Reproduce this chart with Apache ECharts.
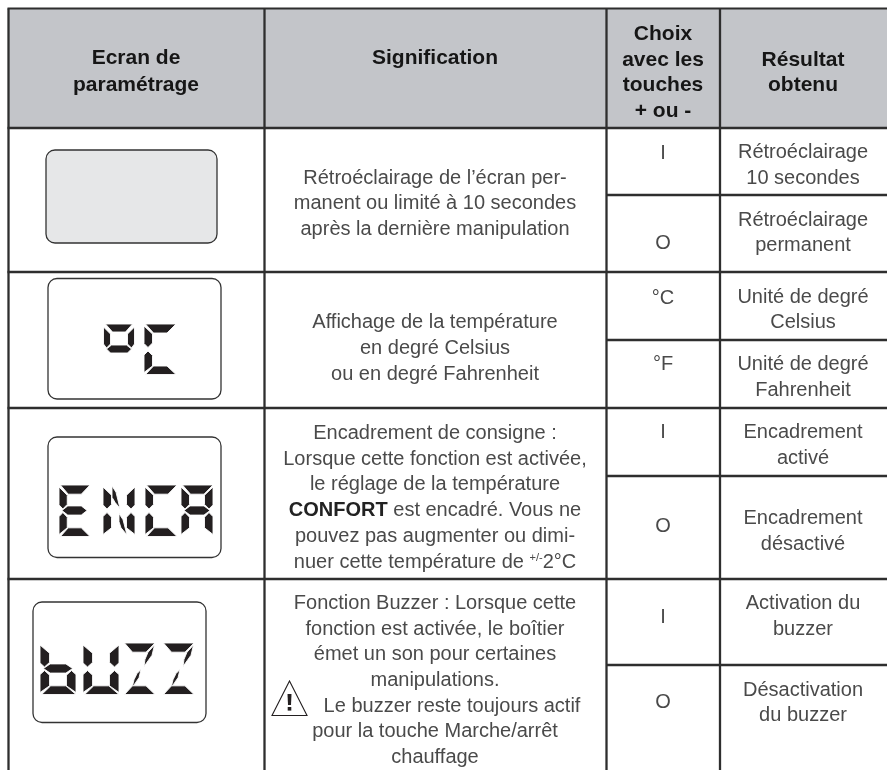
<!DOCTYPE html>
<html><head><meta charset="utf-8">
<style>html,body{margin:0;padding:0;background:#fff}#c{width:887px;height:770px}</style>
<script src="https://cdn.jsdelivr.net/npm/echarts@6/dist/echarts.min.js"></script>
</head><body><div id="c"></div>
<script>
// ---- content ----
const headers = [
  ['Ecran de', 'paramétrage'],
  ['Signification'],
  ['Choix', 'avec les', 'touches', '+ ou -'],
  ['Résultat', 'obtenu']
];
const meanings = [
  ['Rétroéclairage de l’écran per-', 'manent ou limité à 10 secondes', 'après la dernière manipulation'],
  ['Affichage de la température', 'en degré Celsius', 'ou en degré Fahrenheit'],
  ['Encadrement de consigne :', 'Lorsque cette fonction est activée,', 'le réglage de la température', '{b|CONFORT} est encadré. Vous ne', 'pouvez pas augmenter ou dimi-', 'nuer cette température de {s|+/-}2°C'],
  ['Fonction Buzzer : Lorsque cette', 'fonction est activée, le boîtier', 'émet un son pour certaines', 'manipulations.', 'Le buzzer reste toujours actif', 'pour la touche Marche/arrêt', 'chauffage']
];
const choices = ['I', 'O', '°C', '°F', 'I', 'O', 'I', 'O'];
const results = [
  ['Rétroéclairage', '10 secondes'], ['Rétroéclairage', 'permanent'],
  ['Unité de degré', 'Celsius'], ['Unité de degré', 'Fahrenheit'],
  ['Encadrement', 'activé'], ['Encadrement', 'désactivé'],
  ['Activation du', 'buzzer'], ['Désactivation', 'du buzzer']
];
const lcdWords = [[], ['°', 'C'], ['E', 'N', 'C', 'A'], ['b', 'U', 'Z', 'Z']];

// ---- layout (reference pixels, fed through the hidden axes) ----
const colX = [8.5, 264.5, 606.5, 720, 887];
const rowY = [8.5, 128, 272, 408, 579, 770];
const subY = [195, 340, 476, 665];
const headerCY = [[58, 85], [58], [34, 60, 85, 111], [60, 85]];
const colCX = [136, 435, 663, 803];
const meaningY = [[178, 203.5, 229], [322, 348, 374], [433, 459, 484.5, 510, 536, 562], [603, 629, 654.5, 680, 706, 731.5, 757]];
const choiceY = [153, 243, 298, 364, 432, 526, 617, 702];
const resultY = [[152, 178], [220, 245.5], [297, 322.5], [364, 390], [432, 458], [518, 544], [603, 629], [690, 715.5]];
const lcdBox = [[46, 150, 171, 93], [48, 278.5, 173, 120.5], [48, 437, 173, 120.5], [33, 602, 173, 120.5]];
const lcdGlyphPos = [[], [[103.5, 324, 31, 29], [144, 324, 32, 50]],
  [[59, 485, 31, 51], [103, 485, 32, 51], [145, 485, 32, 51], [181, 485, 32, 51]],
  [[40, 643, 36, 51], [83, 643, 36, 51], [123, 643, 32, 51], [162, 643, 32, 51]]];

// seven-segment shapes on a 32x50 cell
const seg = {
  a: [[1.5, 0], [32, 0], [23, 9], [9.5, 9]],
  f: [[0, 2], [8.5, 10], [8.5, 19], [4, 23.5], [0, 19.5]],
  b: [[32, 2], [23.5, 10], [23.5, 19], [28, 23.5], [32, 19.5]],
  g: [[3, 25], [9, 20.5], [23, 20.5], [29, 25], [23, 29.5], [9, 29.5]],
  e: [[0, 31], [4, 27], [8.5, 31.5], [8.5, 42], [0, 48.5]],
  c: [[32, 31], [28, 27], [23.5, 31.5], [23.5, 42], [32, 48.5]],
  d: [[1.5, 50.5], [9.5, 42], [23, 42], [32, 50.5]],
  n1: [[9, 1], [13, 7], [17, 23], [12, 17], [9, 12]],
  n2: [[16, 28], [20, 34], [24, 49], [18, 42], [16, 36]],
  z1: [[31.5, 2], [29, 12], [21, 23], [22, 16], [25, 9]],
  z2: [[18, 26], [16, 34], [9, 44], [11, 36], [14, 30]],
  ringA: [[2, 0], [29, 0], [22, 8], [9, 8]],
  ringF: [[0, 3], [7, 10], [7, 20], [3, 24], [0, 20]],
  ringB: [[31, 3], [24, 10], [24, 20], [28, 24], [31, 20]],
  ringD: [[3, 25], [8, 21], [23, 21], [28, 25], [24, 29], [7, 29]]
};
const glyphSegs = {
  '°': ['ringA', 'ringF', 'ringB', 'ringD'], C: ['a', 'f', 'e', 'd'], E: ['a', 'f', 'g', 'e', 'd'],
  N: ['f', 'e', 'b', 'c', 'n1', 'n2'], A: ['a', 'f', 'b', 'g', 'e', 'c'],
  b: ['f', 'g', 'e', 'c', 'd'], U: ['f', 'e', 'b', 'c', 'd'], Z: ['a', 'z1', 'z2', 'd']
};

const FONT = '"Liberation Sans", Arial, sans-serif';
const BODY = 20, HEAD = 21, INK = '#4a4a4a', HEADINK = '#161616', LINE = '#2e2e2e';

// ---- primitives ----
const rects = [], lines = [], polys = [], texts = [];
rects.push({x: colX[0], y: rowY[0], w: 887 - colX[0], h: rowY[1] - rowY[0], fill: '#c3c5c9'});
lcdBox.forEach((b, i) => rects.push({x: b[0], y: b[1], w: b[2], h: b[3], r: 9, fill: i === 0 ? '#e6e7e8' : '#fff', stroke: '#333', sw: 1.3}));
rowY.slice(0, 5).forEach((y, i) => lines.push([colX[0] - 1, y, 887, y, i === 0 ? 1.8 : 2.3]));
subY.forEach(y => lines.push([colX[2], y, 887, y, 2.3]));
colX.slice(0, 4).forEach(x => lines.push([x, rowY[0], x, 770, 2.3]));

lcdWords.forEach((word, wi) => word.forEach((ch, gi) => {
  const [gx, gy, gw, gh] = lcdGlyphPos[wi][gi];
  const ring = ch === '°';
  glyphSegs[ch].forEach(s => polys.push({
    pts: seg[s].map(p => ring ? [gx + p[0], gy + p[1]] : [gx + p[0] * gw / 32, gy + p[1] * gh / 50]),
    fill: '#231f20', stroke: '#fff', sw: 0.9
  }));
}));
// warning triangle
polys.push({pts: [[289.5, 681], [307, 715.5], [272, 715.5]], stroke: '#231f20', sw: 1.1, fill: 'none'});
polys.push({pts: [[287.5, 694], [291.5, 694], [291, 705], [288, 705]], fill: '#231f20'});
rects.push({x: 287.7, y: 707, w: 3.6, h: 3.6, fill: '#231f20'});

headers.forEach((h, c) => h.forEach((t, i) => texts.push({t, x: colCX[c], y: headerCY[c][i], bold: true})));
meanings.forEach((m, r) => m.forEach((t, i) => texts.push({t, x: (r === 3 && i === 4) ? 452 : colCX[1], y: meaningY[r][i]})));
choices.forEach((t, i) => texts.push({t, x: colCX[2], y: choiceY[i]}));
results.forEach((m, r) => m.forEach((t, i) => texts.push({t, x: colCX[3], y: resultY[r][i]})));

function renderRect(p, api) {
  const d = rects[p.dataIndex], a = api.coord([d.x, d.y]), b = api.coord([d.x + d.w, d.y + d.h]);
  return {type: 'rect', shape: {x: a[0], y: a[1], width: b[0] - a[0], height: b[1] - a[1], r: d.r || 0},
    style: {fill: d.fill, stroke: d.stroke || null, lineWidth: d.sw || 0}};
}
function renderLine(p, api) {
  const d = lines[p.dataIndex], a = api.coord([d[0], d[1]]), b = api.coord([d[2], d[3]]);
  return {type: 'line', shape: {x1: a[0], y1: a[1], x2: b[0], y2: b[1]}, style: {stroke: LINE, lineWidth: d[4]}};
}
function renderPoly(p, api) {
  const d = polys[p.dataIndex];
  return {type: 'polygon', shape: {points: d.pts.map(q => api.coord(q))},
    style: {fill: d.fill, stroke: d.stroke || null, lineWidth: d.sw || 0}};
}
function renderText(p, api) {
  const d = texts[p.dataIndex], a = api.coord([d.x, d.y]);
  return {type: 'text', x: a[0], y: a[1], style: {
    text: d.t, align: 'center', verticalAlign: 'middle', fill: d.bold ? HEADINK : INK,
    fontFamily: FONT, fontSize: d.bold ? HEAD : BODY, fontWeight: d.bold ? 'bold' : 'normal',
    rich: {
      b: {fontFamily: FONT, fontSize: BODY, fontWeight: 'bold', fill: '#222'},
      s: {fontFamily: FONT, fontSize: 11, fill: INK, verticalAlign: 'top'}
    }
  }};
}
const ser = (arr, fn, z) => ({type: 'custom', coordinateSystem: 'cartesian2d', clip: false, silent: true, z,
  animation: false, renderItem: fn, data: arr.map((_, i) => [i, i]), encode: {x: 0, y: 1}});

const chart = echarts.init(document.getElementById('c'), null, {renderer: 'canvas', width: 887, height: 770});
chart.setOption({
  animation: false,
  backgroundColor: '#fff',
  grid: {left: 0, right: 0, top: 0, bottom: 0},
  xAxis: {type: 'value', min: 0, max: 887, show: false},
  yAxis: {type: 'value', min: 0, max: 770, inverse: true, show: false},
  tooltip: {show: false},
  series: [ser(rects, renderRect, 1), ser(lines, renderLine, 2), ser(polys, renderPoly, 3), ser(texts, renderText, 4)]
});
</script></body></html>
